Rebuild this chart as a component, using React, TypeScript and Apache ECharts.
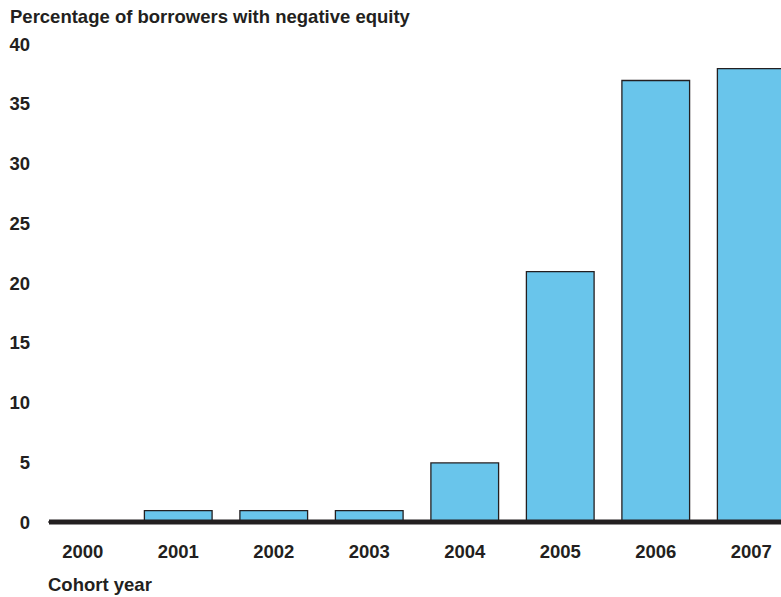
import React, { useEffect, useRef } from "react";
import * as echarts from "echarts";

const cohortYears = ["2000", "2001", "2002", "2003", "2004", "2005", "2006", "2007"];
const negativeEquityPct = [0, 1, 1, 1, 5, 21, 37, 38];
const yTicks = { min: 0, max: 40, interval: 5 };

const TEXT = "#231f20";
const FONT = "'Liberation Sans', Arial, Helvetica, sans-serif";

// The plot runs past the right edge of the visible frame, so the chart canvas
// is wider than the clipping wrapper around it.
const FRAME_W = 781;
const FRAME_H = 597;
const CANVAS_W = 800;

export default function App() {
  const ref = useRef<HTMLDivElement>(null);

  useEffect(() => {
    document.body.style.margin = "0";
    const chart = echarts.init(ref.current!, null, { renderer: "svg" });
    const gridTop = 44;
    const gridHeight = 478;
    chart.setOption({
      animation: false,
      backgroundColor: "#ffffff",
      textStyle: { fontFamily: FONT },
      grid: { left: 35, top: gridTop, width: 764, height: gridHeight, containLabel: false },
      xAxis: {
        type: "category",
        data: cohortYears,
        axisLine: { show: false },
        axisTick: { show: false },
        axisLabel: {
          color: TEXT,
          fontWeight: "bold",
          fontSize: 18.5,
          fontFamily: FONT,
          margin: 20,
        },
      },
      yAxis: {
        type: "value",
        min: yTicks.min,
        max: yTicks.max,
        interval: yTicks.interval,
        splitLine: { show: false },
        axisLine: { show: false },
        axisTick: { show: false },
        axisLabel: {
          color: TEXT,
          fontWeight: "bold",
          fontSize: 18.5,
          fontFamily: FONT,
          margin: 5,
        },
      },
      series: [
        {
          type: "bar",
          data: negativeEquityPct,
          barWidth: 69,
          itemStyle: {
            color: "#69c5eb",
            borderColor: "#231f20",
            borderWidth: 1.3,
          },
        },
      ],
      graphic: [
        {
          type: "rect",
          z: 100,
          shape: { x: 49, y: gridTop + gridHeight - 2.5, width: CANVAS_W - 49, height: 5 },
          style: { fill: TEXT },
        },
        {
          type: "text",
          left: 10,
          top: 7,
          style: {
            text: "Percentage of borrowers with negative equity",
            font: `bold 18.5px ${FONT}`,
            fill: TEXT,
          },
        },
        {
          type: "text",
          left: 48,
          top: 575,
          style: {
            text: "Cohort year",
            font: `bold 18.5px ${FONT}`,
            fill: TEXT,
          },
        },
      ],
    });
    return () => chart.dispose();
  }, []);

  return (
    <div style={{ width: FRAME_W, height: FRAME_H, overflow: "hidden", position: "relative" }}>
      <div ref={ref} style={{ width: CANVAS_W, height: FRAME_H }} />
    </div>
  );
}
